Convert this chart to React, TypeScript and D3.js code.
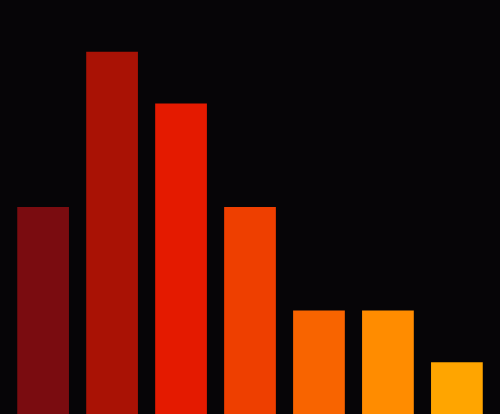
import React, { useRef, useEffect } from 'react';
import * as d3 from 'd3';

const categories = ['A', 'B', 'C', 'D', 'E', 'F', 'G'];
const values = [4, 7, 6, 4, 2, 2, 1];
const colours = ['#7a0c10', '#a91205', '#e41a00', '#ee3f00', '#f86400', '#ff8c00', '#ffa500'];

const width = 500;
const height = 414;

const App: React.FC = () => {
  const svgRef = useRef<SVGSVGElement | null>(null);

  useEffect(() => {
    if (!svgRef.current) return;
    document.body.style.margin = '0';

    const x = d3.scaleBand<string>()
      .domain(categories)
      .range([0, width])
      .paddingInner(0.25)
      .paddingOuter(0.25);

    const y = d3.scaleLinear()
      .domain([0, 8])
      .range([height, 0]);

    const svg = d3.select(svgRef.current);
    svg.selectAll('*').remove();

    svg.append('rect')
      .attr('width', width)
      .attr('height', height)
      .attr('fill', '#060507');

    svg.selectAll('.bar')
      .data(values)
      .enter().append('rect')
      .attr('class', 'bar')
      .attr('x', (d, i) => x(categories[i]) as number)
      .attr('y', d => y(d))
      .attr('width', x.bandwidth())
      .attr('height', d => height - y(d))
      .attr('fill', (d, i) => colours[i]);
  }, []);

  return <svg ref={svgRef} width={width} height={height} style={{ display: 'block' }} />;
};

export default App;
